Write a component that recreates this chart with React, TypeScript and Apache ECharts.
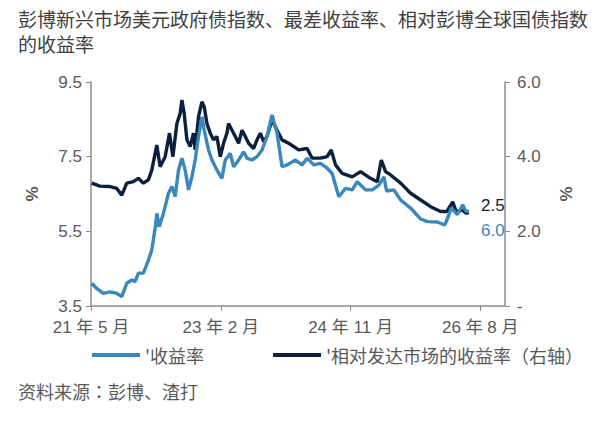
import React, { useEffect, useRef } from "react";
import * as echarts from "echarts";

// x values: months after 2021年5月 (0 = 2021-05)
const blueMonths = [0.11, 0.92, 1.99, 3.08, 4.17, 4.98, 5.79, 6.6, 7.14, 7.67, 8.48, 9.29, 9.84, 10.38, 10.65, 11.03, 11.72, 12.54, 13.09, 13.62, 14.16, 14.71, 15.24, 15.78, 16.33, 16.86, 17.4, 17.95, 18.32, 19.02, 19.57, 20.38, 21.19, 21.73, 22.54, 23.08, 23.89, 24.7, 25.25, 26.06, 26.87, 27.68, 28.49, 29.3, 30.11, 30.92, 31.74, 33.08, 34.17, 34.98, 36.05, 37.14, 38.22, 39.03, 40.1, 41.19, 42.28, 43.09, 44.43, 45.52, 46.59, 47.4, 47.84, 49.02, 50.11, 51.73, 53.35, 54.44, 56.06, 57.24, 57.81, 58.3, 59.3, 60.16, 60.65, 61.18];
const blueValues = [4.11, 3.97, 3.84, 3.88, 3.84, 3.75, 4.11, 4.2, 4.15, 4.38, 4.38, 4.73, 5.0, 5.58, 5.98, 5.62, 5.98, 6.52, 6.7, 6.43, 7.14, 7.46, 7.14, 6.61, 6.96, 7.41, 8.04, 8.57, 8.21, 7.68, 7.41, 7.14, 6.92, 7.41, 7.59, 7.23, 7.41, 7.63, 7.46, 7.41, 7.5, 7.68, 8.04, 8.62, 8.13, 7.23, 7.28, 7.41, 7.28, 7.46, 7.28, 7.32, 7.19, 7.05, 6.43, 6.65, 6.61, 6.83, 6.61, 6.61, 6.74, 6.96, 6.58, 6.61, 6.34, 6.12, 5.83, 5.76, 5.75, 5.67, 5.89, 6.13, 5.95, 6.21, 6.04, 6.03];

const darkMonths = [0.11, 1.46, 3.08, 4.17, 4.98, 5.79, 6.86, 7.67, 8.48, 9.29, 9.84, 10.65, 11.19, 12.0, 12.7, 13.25, 13.9, 14.43, 14.71, 15.08, 15.52, 16.05, 16.59, 16.86, 17.4, 17.95, 18.32, 18.76, 19.3, 19.83, 20.38, 20.92, 21.45, 22.0, 22.26, 22.82, 23.35, 23.89, 24.44, 24.97, 25.51, 26.32, 26.87, 27.41, 27.94, 28.49, 29.3, 30.11, 30.92, 31.99, 33.62, 34.98, 35.79, 37.14, 38.22, 38.87, 39.57, 40.65, 42.28, 43.62, 45.24, 46.33, 46.98, 47.68, 48.49, 50.11, 51.73, 53.35, 54.97, 56.59, 57.57, 58.54, 59.11, 60.11, 60.65, 61.18];
const darkValues = [3.29, 3.21, 3.2, 3.15, 2.97, 3.29, 3.33, 3.42, 3.29, 3.38, 3.64, 4.31, 3.73, 4.0, 4.63, 4.0, 4.89, 5.16, 5.52, 5.16, 4.45, 4.27, 4.63, 4.18, 5.07, 5.47, 5.34, 4.89, 4.63, 4.45, 4.54, 4.0, 4.36, 4.63, 4.89, 4.71, 4.54, 4.36, 4.71, 4.54, 4.36, 4.22, 4.45, 4.63, 4.4, 4.54, 4.98, 4.71, 4.45, 4.36, 4.18, 4.22, 3.96, 3.96, 4.0, 4.18, 3.78, 3.55, 3.46, 3.6, 3.42, 3.33, 3.91, 3.6, 3.51, 3.29, 3.02, 2.84, 2.66, 2.53, 2.53, 2.79, 2.52, 2.57, 2.49, 2.5];

const leftTicks = [3.5, 5.5, 7.5, 9.5];
const rightTicks = [0, 2, 4, 6];
const xTicks = [0, 21, 42, 63];

const titleText = "彭博新兴市场美元政府债指数、最差收益率、相对彭博全球国债指数\n的收益率";
const blueName = "'收益率";
const darkName = "'相对发达市场的收益率（右轴）";
const sourceText = "资料来源：彭博、渣打";

const BLUE = "#3a87bb";
const DARK = "#0c1f3d";
const AXIS = "#8c8c8c";
const LABEL = "#595959";
const FONT = "'Liberation Sans', 'Noto Sans CJK SC', sans-serif";
const CJK = "'Noto Sans CJK SC', sans-serif";
const CJK_CENTERED = "'Noto Sans CJK JP', 'Noto Sans CJK SC', sans-serif";

function monthLabel(m: number): string {
  const idx = 4 + Math.round(m);
  const year = 21 + Math.floor(idx / 12);
  const month = (idx % 12) + 1;
  return `${year} 年 ${month} 月`;
}

export default function App() {
  const ref = useRef<HTMLDivElement>(null);
  useEffect(() => {
    if (!ref.current) return;
    const chart = echarts.init(ref.current, undefined, { renderer: "svg" });
    const blueData = blueMonths.map((m, i) => [m, blueValues[i]]);
    const darkData = darkMonths.map((m, i) => [m, darkValues[i]]);
    chart.setOption({
      animation: false,
      textStyle: { fontFamily: FONT },
      title: {
        text: titleText,
        left: 13,
        top: 1,
        textStyle: { fontSize: 19, lineHeight: 25, color: "#404040", fontWeight: "normal", fontFamily: CJK },
      },
      grid: { left: 91, right: 105, top: 82, bottom: 118, containLabel: false },
      legend: [
        {
          data: [blueName],
          left: 92,
          top: 346,
          padding: 0,
          icon: "rect",
          itemWidth: 48,
          itemHeight: 4,
          itemGap: 5,
          textStyle: { fontSize: 18, color: LABEL, fontFamily: CJK },
        },
        {
          data: [darkName],
          left: 273,
          top: 346,
          padding: 0,
          icon: "rect",
          itemWidth: 48,
          itemHeight: 4,
          textStyle: { fontSize: 18, color: LABEL, fontFamily: CJK },
        },
      ],
      xAxis: {
        type: "value",
        min: 0,
        max: 67,
        interval: 21,
        splitLine: { show: false },
        axisLine: { show: true, lineStyle: { color: AXIS, width: 1.5 } },
        axisTick: { show: true, length: 5, lineStyle: { color: AXIS }, customValues: xTicks },
        axisLabel: {
          customValues: xTicks,
          formatter: (v: number) => monthLabel(v),
          fontSize: 17,
          color: LABEL,
          margin: 13,
          fontFamily: FONT,
        },
      },
      yAxis: [
        {
          type: "value",
          min: 3.5,
          max: 9.5,
          position: "left",
          name: "%",
          nameLocation: "middle",
          nameGap: 50,
          nameRotate: 90,
          nameTextStyle: { fontSize: 17, fontWeight: "bold", color: LABEL, fontFamily: FONT },
          splitLine: { show: false },
          axisLine: { show: true, lineStyle: { color: AXIS, width: 1.5 } },
          axisTick: { show: true, length: 5, lineStyle: { color: AXIS }, customValues: leftTicks },
          axisLabel: {
            customValues: leftTicks,
            formatter: (v: number) => v.toFixed(1),
            fontSize: 17,
            color: LABEL,
            margin: 9,
            fontFamily: FONT,
          },
        },
        {
          type: "value",
          min: 0,
          max: 6,
          interval: 2,
          position: "right",
          name: "%",
          nameLocation: "middle",
          nameGap: 53,
          nameRotate: 90,
          nameTextStyle: { fontSize: 17, fontWeight: "bold", color: LABEL, fontFamily: FONT },
          splitLine: { show: false },
          axisLine: { show: true, lineStyle: { color: AXIS, width: 1.5 } },
          axisTick: { show: true, length: 5, lineStyle: { color: AXIS }, customValues: rightTicks },
          axisLabel: {
            customValues: rightTicks,
            formatter: (v: number) => (v === 0 ? "-" : v.toFixed(1)),
            fontSize: 17,
            color: LABEL,
            margin: 12,
            fontFamily: FONT,
          },
        },
      ],
      series: [
        {
          name: darkName,
          type: "line",
          yAxisIndex: 1,
          data: darkData,
          showSymbol: false,
          itemStyle: { color: DARK },
          lineStyle: { color: DARK, width: 3.4 },
          endLabel: {
            show: true,
            formatter: (p: any) => p.value[1].toFixed(1),
            color: DARK,
            fontSize: 17,
            offset: [4, -7],
            fontFamily: FONT,
          },
        },
        {
          name: blueName,
          type: "line",
          yAxisIndex: 0,
          data: blueData,
          showSymbol: false,
          itemStyle: { color: BLUE },
          lineStyle: { color: BLUE, width: 3.4 },
          endLabel: {
            show: true,
            formatter: (p: any) => p.value[1].toFixed(1),
            color: BLUE,
            fontSize: 17,
            offset: [4, 19],
            fontFamily: FONT,
          },
        },
      ],
      graphic: [
        {
          type: "text",
          left: 18,
          top: 382,
          style: { text: sourceText, fontSize: 18, fill: LABEL, fontFamily: CJK_CENTERED },
        },
      ],
    });
    return () => chart.dispose();
  }, []);
  return (
    <div
      ref={ref}
      style={{ position: "absolute", left: 0, top: 0, width: 610, height: 424, background: "#fff" }}
    />
  );
}
